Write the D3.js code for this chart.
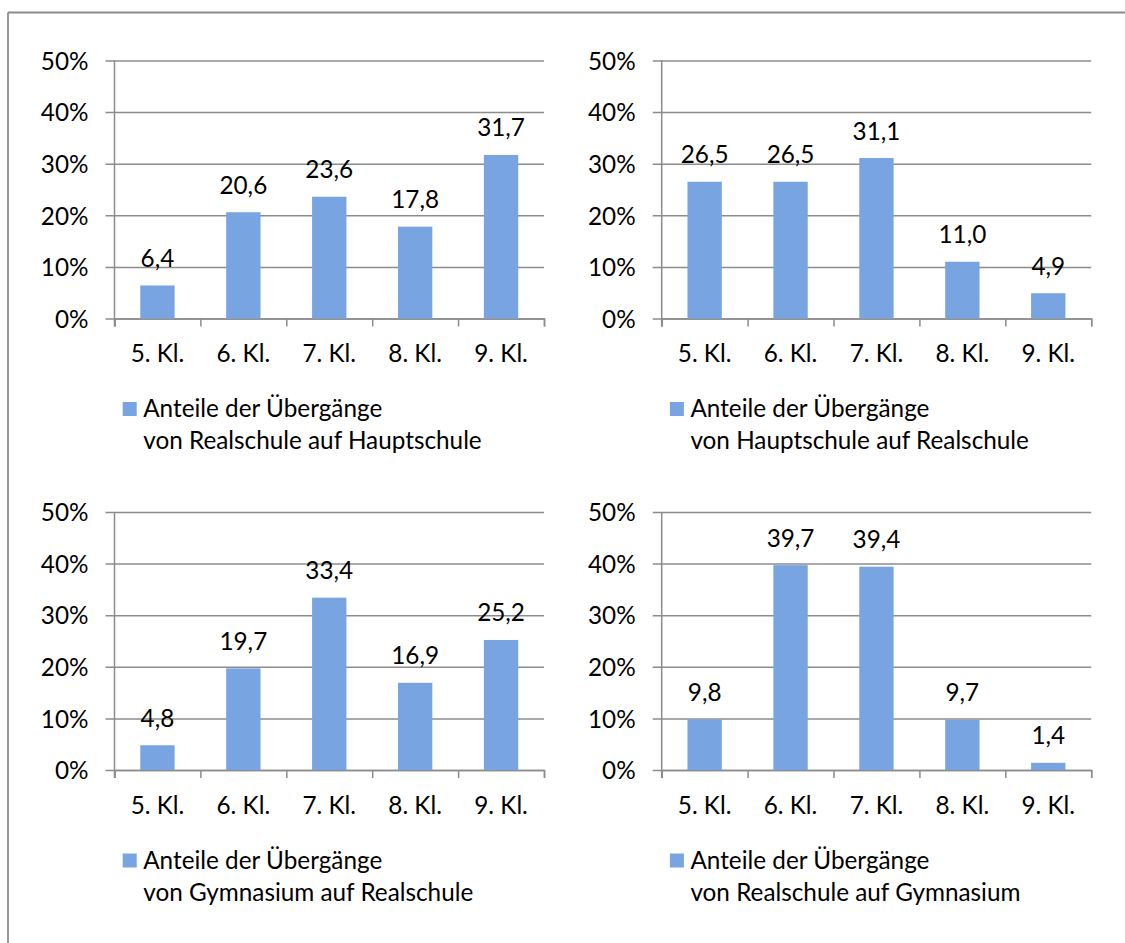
<!DOCTYPE html>
<html><head><meta charset="utf-8">
<script src="https://cdn.jsdelivr.net/npm/d3@7"></script>
<style>
html,body{margin:0;padding:0;background:#fff;}
svg text{font-family:Lato,"Open Sans",sans-serif;fill:#000;}
</style></head>
<body>
<svg id="chart" width="1125" height="943"></svg>
<script>
const categories = ["5. Kl.", "6. Kl.", "7. Kl.", "8. Kl.", "9. Kl."];
const yTicks = [0, 10, 20, 30, 40, 50];
const legendTitle = "Anteile der Übergänge";
const seriesRealHaupt = [6.4, 20.6, 23.6, 17.8, 31.7];
const seriesHauptReal = [26.5, 26.5, 31.1, 11.0, 4.9];
const seriesGymReal = [4.8, 19.7, 33.4, 16.9, 25.2];
const seriesRealGym = [9.8, 39.7, 39.4, 9.7, 1.4];
const legendNames = [
  "von Realschule auf Hauptschule",
  "von Hauptschule auf Realschule",
  "von Gymnasium auf Realschule",
  "von Realschule auf Gymnasium"
];
const seriesList = [seriesRealHaupt, seriesHauptReal, seriesGymReal, seriesRealGym];

const svg = d3.select("#chart");
const barColor = "#78A5E2";
const gridColor = "#8c8c8c";
const fontSize = 24.3;
const fmt = d3.formatLocale({decimal: ",", thousands: ".", grouping: [3], currency: ["", "€"]}).format(".1f");

// outer border (top & left visible)
svg.append("line").attr("x1", 8).attr("x2", 1130).attr("y1", 12.5).attr("y2", 12.5)
  .attr("stroke", gridColor).attr("stroke-width", 1.8);
svg.append("line").attr("x1", 8).attr("x2", 8).attr("y1", 12.5).attr("y2", 950)
  .attr("stroke", gridColor).attr("stroke-width", 1.8);

const W = 429.5, H = 258;
const origins = [[114.5, 60.5], [661.7, 60.5], [114.5, 512], [661.7, 512]];

seriesList.forEach((vals, k) => {
  const [ox, oy] = origins[k];
  const g = svg.append("g").attr("transform", `translate(${ox},${oy})`);
  const y = d3.scaleLinear().domain([0, 50]).range([H, 0]);
  const x = d3.scaleBand().domain(categories).range([0, W]).paddingInner(0.6).paddingOuter(0.3);
  const xb = d3.scaleLinear().domain([0, categories.length]).range([0, W]);

  // gridlines (extend 9px left of axis)
  const grid = g.append("g").attr("transform", "translate(-9,0)")
    .call(d3.axisRight(y).tickValues(yTicks).tickSize(W + 9).tickFormat(""));
  grid.select(".domain").remove();
  grid.selectAll("line").attr("stroke", gridColor).attr("stroke-width", 1.5);

  // y labels
  const yl = g.append("g").call(d3.axisLeft(y).tickValues(yTicks).tickSize(0).tickPadding(26).tickFormat(d => d + "%"));
  yl.select(".domain").remove();
  yl.selectAll("text").attr("font-size", fontSize).attr("font-family", "Lato").attr("dy", "0.36em").attr("fill", "#000");

  // vertical axis line
  g.append("line").attr("x1", 0).attr("x2", 0).attr("y1", y(50)).attr("y2", y(0) + 8)
    .attr("stroke", gridColor).attr("stroke-width", 1.5);

  // bottom boundary ticks
  const xt = g.append("g").attr("transform", `translate(0,${H})`)
    .call(d3.axisBottom(xb).tickValues(d3.range(categories.length + 1)).tickSize(8).tickFormat(""));
  xt.select(".domain").attr("stroke", gridColor).attr("stroke-width", 1.5);
  xt.selectAll("line").attr("stroke", gridColor).attr("stroke-width", 1.5);

  // bars
  g.selectAll("rect.bar").data(vals).join("rect").attr("class", "bar")
    .attr("x", (d, i) => x(categories[i]))
    .attr("width", x.bandwidth())
    .attr("y", d => y(d))
    .attr("height", d => y(0) - y(d))
    .attr("fill", barColor);

  // value labels
  g.selectAll("text.val").data(vals).join("text").attr("class", "val")
    .attr("x", (d, i) => x(categories[i]) + x.bandwidth() / 2)
    .attr("y", d => y(d) - 18.5)
    .attr("text-anchor", "middle").attr("font-size", fontSize)
    .text(d => fmt(d));

  // category labels
  g.selectAll("text.cat").data(categories).join("text").attr("class", "cat")
    .attr("x", d => x(d) + x.bandwidth() / 2)
    .attr("y", H + 43.5)
    .attr("text-anchor", "middle").attr("font-size", fontSize)
    .text(d => d);

  // legend
  const lg = g.append("g").attr("transform", `translate(${8.2},${H + 83.5})`);
  lg.append("rect").attr("x", 0).attr("y", 0).attr("width", 14).attr("height", 14).attr("fill", barColor);
  lg.append("text").attr("x", 20.5).attr("y", 15).attr("font-size", fontSize).text(legendTitle);
  lg.append("text").attr("x", 20.5).attr("y", 47).attr("font-size", fontSize).text(legendNames[k]);
});
</script>
</body></html>
